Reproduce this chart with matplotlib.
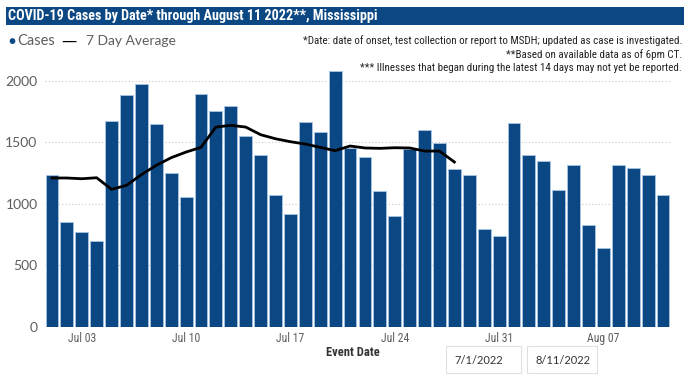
import matplotlib
matplotlib.use("Agg")
import matplotlib.pyplot as plt
import pandas as pd
from matplotlib.patches import Rectangle

dates = pd.date_range("2022-07-01", "2022-08-11", freq="D")
cases = [1230, 851, 770, 699, 1669, 1881, 1973, 1648, 1247, 1052,
         1892, 1751, 1794, 1547, 1398, 1071, 916, 1667, 1585, 2079,
         1450, 1377, 1106, 902, 1447, 1599, 1493, 1282, 1230, 797,
         737, 1659, 1393, 1344, 1111, 1312, 824, 640, 1312, 1290,
         1230, 1068]
avg_dates = pd.date_range("2022-07-01", "2022-07-28", freq="D")
avg7 = [1209, 1209, 1203, 1211, 1117, 1149, 1236, 1312, 1374, 1420,
        1458, 1623, 1637, 1623, 1561, 1528, 1504, 1485, 1458, 1431,
        1469, 1453, 1450, 1455, 1453, 1428, 1428, 1339]
yticks = [0, 500, 1000, 1500, 2000]
xtick_days = ["2022-07-03", "2022-07-10", "2022-07-17", "2022-07-24", "2022-07-31", "2022-08-07"]

title = "COVID-19 Cases by Date* through August 11 2022**, Mississippi"
notes = ["*Date: date of onset, test collection or report to MSDH; updated as case is investigated.",
         "**Based on available data as of 6pm CT.",
         "*** Illnesses that began during the latest 14 days may not yet be reported."]

BLUE = "#0B4883"
GRAY = "#605E5C"
W, H = 688, 376
fig = plt.figure(figsize=(W / 100, H / 100), dpi=100)

cond = ['Roboto Condensed', 'Liberation Sans Narrow', 'Roboto', 'DejaVu Sans']
ui = ['Lato', 'DejaVu Sans']

# title bar
fig.patches.append(Rectangle((6 / W, 1 - 25 / H), 678 / W, 18.5 / H, transform=fig.transFigure,
                             facecolor=BLUE, edgecolor="none", zorder=0))
fig.text(8 / W, 1 - 15.8 / H, title, color="white", fontsize=10.2, fontweight="bold",
         family=cond, va="center", ha="left")

# legend
fig.text(8 / W, 1 - 41 / H, "●", color=BLUE, fontsize=8.5, va="center", ha="left", family=ui)
fig.text(17 / W, 1 - 41 / H, "Cases", color=GRAY, fontsize=10.5, va="center", ha="left", family=ui)
fig.text(61 / W, 1 - 41 / H, "—", color="black", fontsize=11, va="center", ha="left",
         family=['DejaVu Sans'])
fig.text(86 / W, 1 - 41 / H, "7 Day Average", color=GRAY, fontsize=10, va="center", ha="left", family=ui)

for i, n in enumerate(notes):
    fig.text(682 / W, 1 - (41 + i * 13.7) / H, n, color="#222222", fontsize=7.9,
             va="center", ha="right", family=cond)

ylim_top = 2150
px_per_unit = 0.123
ax = fig.add_axes([44.5 / W, 49.3 / H, 626 / W, ylim_top * px_per_unit / H])
ax.bar(dates, cases, width=0.86, color=BLUE, edgecolor="#A9C6E3", linewidth=0.6, zorder=2)
ax.plot(avg_dates, avg7, color="black", linewidth=2, zorder=3)

ax.set_xlim(dates[0] - pd.Timedelta(hours=12), dates[-1] + pd.Timedelta(hours=12))
ax.set_ylim(0, ylim_top)
ax.set_yticks(yticks)
ax.set_yticklabels([str(v) for v in yticks], family=ui)
xt = pd.to_datetime(xtick_days)
ax.set_xticks(xt)
ax.set_xticklabels([d.strftime("%b %d") for d in xt], family=cond)
ax.tick_params(axis="x", length=0, labelsize=8.5, labelcolor=GRAY, pad=4)
ax.tick_params(axis="y", length=0, labelsize=10, labelcolor=GRAY, pad=5)
ax.grid(axis="y", color="#C8C8C8", linestyle=(0, (1, 2)), linewidth=0.8, zorder=0)
for s in ax.spines.values():
    s.set_visible(False)
ax.set_axisbelow(True)

fig.text(353 / W, 1 - 353 / H, "Event Date", color="#333333", fontsize=9, fontweight="bold",
         family=cond, ha="center", va="center")

# date boxes
for x0, w, s in [(446, 75, "7/1/2022"), (527, 70, "8/11/2022")]:
    fig.patches.append(Rectangle((x0 / W, 1 - 373 / H), w / W, 27 / H, transform=fig.transFigure,
                                 facecolor="white", edgecolor="#E1E1E1", linewidth=0.8))
    fig.text((x0 + 8) / W, 1 - 360 / H, s, color="#333333", fontsize=8, va="center", ha="left",
             family=ui)

fig.savefig("out.png", dpi=100)
